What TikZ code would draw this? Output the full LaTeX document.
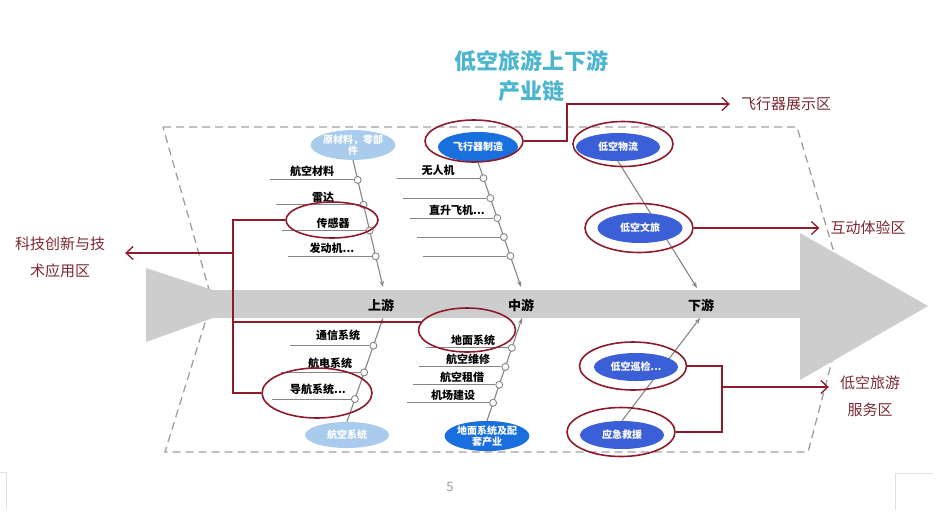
\documentclass[tikz,border=0pt]{standalone}
\usepackage{fontspec}
\setmainfont{Noto Sans CJK SC}
\usetikzlibrary{shapes.geometric,arrows.meta,calc}
\definecolor{chainred}{HTML}{8E1B2B}
\definecolor{zonetext}{HTML}{7B2832}
\definecolor{titleteal}{HTML}{4DB6CE}
\definecolor{bluedark}{HTML}{1A6FDF}
\definecolor{blueroyal}{HTML}{3B5FD6}
\definecolor{bluelight}{HTML}{A9CBEC}
\definecolor{flowgray}{HTML}{CDCDCD}
\definecolor{bonegray}{HTML}{858585}

\begin{document}
\begin{tikzpicture}[x=1pt, y=-1pt,
  bone/.style={draw=bonegray, line width=1.1pt, -{Stealth[length=6pt,width=4.5pt]}},
  rib/.style={draw=bonegray, line width=1pt},
  knot/.style={circle, draw=bonegray, fill=white, line width=0.9pt, minimum size=7pt, inner sep=0pt},
  item/.style={font=\fontsize{11}{13}\selectfont\bfseries, inner sep=0pt},
  stage/.style={font=\fontsize{13}{15}\selectfont\bfseries, inner sep=0pt},
  pill/.style={ellipse, fill=#1, text=white, inner sep=0pt, minimum width=84pt,
    minimum height=28pt, align=center, font=\fontsize{10}{11.5}\selectfont\bfseries},
  ring/.style={ellipse, draw=chainred, line width=1.6pt, inner sep=0pt},
  zone/.style={text=zonetext, font=\fontsize{15}{27}\selectfont, align=center, inner sep=0pt},
  link/.style={draw=chainred, line width=1.5pt},
  linkarrow/.style={link, shorten >=11pt, -{Straight Barb[length=7pt,width=13pt,line width=1.3pt]}}]
  \useasboundingbox (0,0) rectangle (944,531);

  % Frame and main flow
  \draw[draw=gray!75, line width=1.3pt, dash pattern=on 8pt off 5pt]
    (163,127) -- (797,127) -- (848,300) -- (808,452) -- (165,452) -- (212,300) -- cycle;
  \fill[flowgray] (146,268) -- (213,290) -- (800,290) -- (800,233) -- (928,306)
    -- (800,380) -- (800,318) -- (213,318) -- (146,342) -- cycle;
  \node[stage] (up) at (381,305) {上游};
  \node[stage] (mid) at (521,305) {中游};
  \node[stage] (down) at (701,305) {下游};

  % Title
  \node[text=titleteal, font=\fontsize{22}{30}\selectfont\bfseries, align=center] (title)
    at (531,76) {低空旅游上下游\\产业链};

  % Tips of the bones
  \coordinate (tipA) at (383,287);
  \coordinate (tipB) at (521,287);
  \coordinate (tipC) at (697,288);
  \coordinate (tipD) at (700,318);
  \coordinate (tipE) at (383,318);
  \coordinate (tipF) at (522,318);

  % Upstream, upper bone
  \node[pill=bluelight] (raw) at (353,145) {原材料，零部\\件};
  \draw[bone] (raw.south) -- (tipA);
  \foreach \p [count=\i] in {0.156,0.352,0.555,0.758} {
    \path (raw.south) -- (tipA) node[knot, pos=\p] (ul\i) {};
    \coordinate (ulEnd\i) at ($(ul\i)+(-88,0)$);
    \draw[rib] (ulEnd\i) -- (ul\i);
  }
  \node[item] (ulA) at (312,171) {航空材料};
  \node[item] (ulB) at (323,197) {雷达};
  \node[item] (ulC) at (333,223) {传感器};
  \node[item] (ulD) at (332,248) {发动机...};

  % Midstream, upper bone
  \node[pill=bluedark, minimum width=80pt, minimum height=30pt] (fly) at (478,147) {飞行器制造};
  \draw[bone] (fly.south) -- (tipB);
  \foreach \p [count=\i] in {0.128,0.288,0.448,0.6,0.752} {
    \path (fly.south) -- (tipB) node[knot, pos=\p] (um\i) {};
    \coordinate (umEnd\i) at ($(um\i)+(-87,0)$);
    \draw[rib] (umEnd\i) -- (um\i);
  }
  \node[item] (umA) at (438,170) {无人机};
  \node[item] (umB) at (457,210) {直升飞机...};

  % Upstream, lower bone
  \node[pill=bluelight, minimum height=26pt] (avsys) at (347,435) {航空系统};
  \draw[bone] (avsys.north) -- (tipE);
  \foreach \p [count=\i] in {0.733,0.476,0.219} {
    \path (avsys.north) -- (tipE) node[knot, pos=\p] (ll\i) {};
    \coordinate (llEnd\i) at ($(ll\i)+(-83,0)$);
    \draw[rib] (llEnd\i) -- (ll\i);
  }
  \node[item] (llA) at (338,335) {通信系统};
  \node[item] (llB) at (330,363) {航电系统};
  \node[item] (llC) at (318,389) {导航系统...};

  % Midstream, lower bone
  \node[pill=bluedark, minimum height=30pt] (ground) at (487,436) {地面系统及配\\套产业};
  \draw[bone] (ground.north) -- (tipF);
  \foreach \p [count=\i] in {0.709,0.524,0.35,0.175} {
    \path (ground.north) -- (tipF) node[knot, pos=\p] (lm\i) {};
    \coordinate (lmEnd\i) at ($(lm\i)+(-86,0)$);
    \draw[rib] (lmEnd\i) -- (lm\i);
  }
  \node[item] (lmA) at (473,340) {地面系统};
  \node[item] (lmB) at (468,359) {航空维修};
  \node[item] (lmC) at (462,377) {航空租借};
  \node[item] (lmD) at (453,395) {机场建设};

  % Downstream
  \node[pill=blueroyal] (logi) at (618,147) {低空物流};
  \draw[bone] (logi.south) -- (tipC);
  \node[pill=blueroyal, minimum width=85pt, minimum height=30pt] (culture) at (640,228) {低空文旅};
  \node[pill=blueroyal] (rescue) at (622,435) {应急救援};
  \draw[bone] (rescue.north) -- (tipD);
  \node[pill=blueroyal] (patrol) at (636,367) {低空巡检...};

  % Red marks
  \node[ring, minimum width=98pt, minimum height=42pt] (ringFly) at (474,141) {};
  \node[ring, minimum width=100pt, minimum height=45pt] (ringLogi) at (623,144) {};
  \node[ring, minimum width=108pt, minimum height=49pt] (ringCulture) at (639,228) {};
  \node[ring, minimum width=107pt, minimum height=48pt] (ringPatrol) at (633,366) {};
  \node[ring, minimum width=108pt, minimum height=49pt] (ringRescue) at (621,432) {};
  \node[ring, minimum width=92pt, minimum height=36pt] (ringSensor) at (332,220) {};
  \node[ring, minimum width=110pt, minimum height=50pt] (ringNav) at (317,393) {};
  \node[ring, minimum width=97pt, minimum height=44pt] (ringGround) at (467,330) {};

  % Zones
  \node[zone] (zShow) at (786,104) {飞行器展示区};
  \node[zone] (zPlay) at (868,228) {互动体验区};
  \node[zone] (zService) at (870,396) {低空旅游\\服务区};
  \node[zone] (zTech) at (60,257) {科技创新与技\\术应用区};

  \draw[linkarrow] (ringFly.east) -- ++(43,0) |- (zShow.west);
  \draw[linkarrow] (ringCulture.east) -- (zPlay.west);
  \coordinate (svcJoin) at (722,387);
  \draw[link] (ringPatrol.east) -| (svcJoin);
  \draw[link] (ringRescue.east) -| (svcJoin);
  \draw[linkarrow] (svcJoin) -- (svcJoin -| zService.west);
  \coordinate (techTop) at (233,217);
  \coordinate (techOut) at (233,253);
  \draw[link] (ringSensor.west) -- (ringSensor.west -| techTop)
    -- (ringNav.west -| techTop) -- (ringNav.west);
  \draw[link] (ringGround.170) -- (ringGround.170 -| techTop);
  \draw[linkarrow, shorten >=20pt] (techOut) -- (techOut -| zTech.east);

  % Page
  \node[text=gray!80, font=\fontsize{13}{15}\selectfont] (pageNo) at (450,487) {5};
  \draw[gray!25] (0,472) -- (6,472) -- (6,508);
  \draw[gray!25] (933,473) -- (895,473) -- (895,510);
\end{tikzpicture}
\end{document}
